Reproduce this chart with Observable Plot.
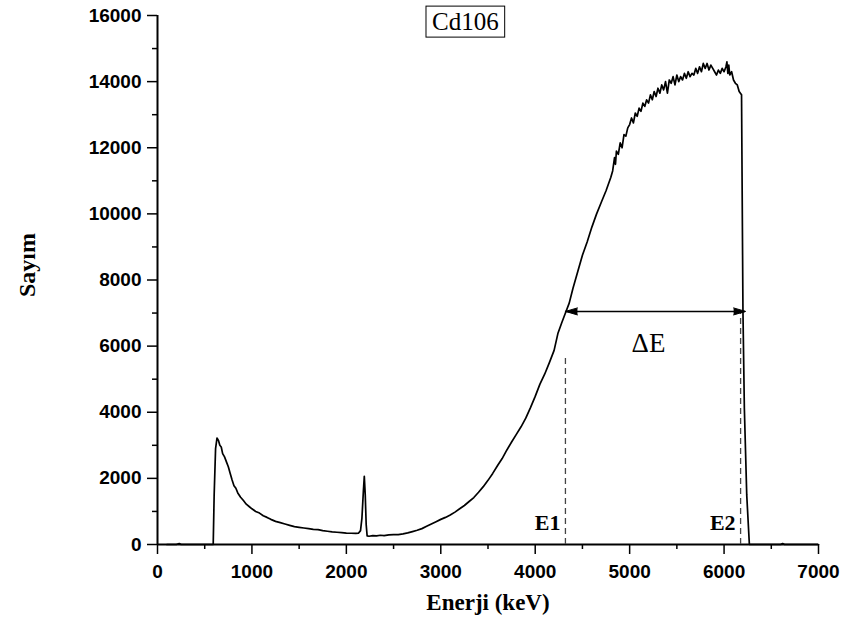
<!DOCTYPE html>
<html>
<head>
<meta charset="utf-8">
<script src="https://cdn.jsdelivr.net/npm/d3@7"></script>
<script src="https://cdn.jsdelivr.net/npm/@observablehq/plot@0.6"></script>
<style>
  html, body { margin: 0; padding: 0; background: #fff; }
  #chart { width: 845px; height: 631px; }
</style>
</head>
<body>
<div id="chart"></div>
<script>
// ---- Data ----
const title = "Cd106";
const xLabel = "Enerji (keV)";
const yLabel = "Sayım";

const energy = [
  100, 200, 230, 250, 400, 560, 590,
  600, 615, 630, 645, 660, 675, 690, 710, 730, 750, 770, 790, 810, 830, 850, 880, 910, 940, 970, 1000,
  1040, 1080, 1120, 1160, 1200, 1250, 1300, 1350, 1400, 1450, 1500, 1550, 1600, 1650, 1700, 1750, 1800,
  1850, 1900, 1950, 2000, 2050, 2100, 2130, 2150, 2165, 2180, 2190, 2200, 2210, 2220, 2240, 2280, 2320,
  2360, 2400, 2450, 2500, 2550, 2600, 2650, 2700, 2750, 2800, 2850, 2900, 2950, 3000, 3050, 3100, 3150,
  3200, 3250, 3300, 3350, 3400, 3450, 3500, 3550, 3600, 3650, 3700, 3750, 3800, 3850, 3900, 3950, 4000,
  4050, 4100, 4150, 4200, 4240, 4280, 4320, 4360, 4400, 4450, 4500, 4550, 4600, 4650, 4700, 4750,
  4800, 4820, 4840, 4850, 4860, 4880, 4900, 4920, 4940, 4960, 4980, 5000, 5020, 5040, 5060, 5080, 5100,
  5120, 5140, 5160, 5180, 5200, 5220, 5240, 5260, 5280, 5300, 5320, 5340, 5360, 5380, 5400, 5420, 5440,
  5460, 5480, 5500, 5520, 5540, 5560, 5580, 5600, 5620, 5640, 5660, 5680, 5700, 5720, 5740, 5760, 5780,
  5800, 5820, 5840, 5860, 5880, 5900, 5920, 5940, 5960, 5980, 6000, 6020, 6030, 6040, 6050, 6060, 6080,
  6100, 6120, 6140, 6160, 6175, 6185, 6200, 6215, 6240, 6268, 6400, 6600, 6620, 6640, 7000
];
const counts = [
  0, 0, 30, 0, 0, 0, 0,
  1500, 2900, 3220, 3150, 3000, 2950, 2750, 2650, 2500, 2350, 2150, 1950, 1780, 1700, 1560, 1430, 1330, 1220, 1150, 1080,
  1000, 950, 870, 820, 760, 700, 660, 620, 580, 540, 520, 500, 480, 460, 450, 420, 400,
  380, 370, 360, 345, 340, 335, 345, 420, 800, 1600, 2060, 1500, 600, 260, 250, 270, 260,
  280, 270, 290, 300, 300, 320, 350, 390, 430, 480, 550, 620, 690, 760, 820, 890, 980,
  1080, 1180, 1300, 1420, 1580, 1750, 1940, 2150, 2380, 2600, 2860, 3100, 3330, 3560, 3820, 4140, 4480,
  4850, 5150, 5500, 5870, 6380, 6700, 7000, 7300, 7750, 8250, 8750, 9150, 9600, 10000, 10350, 10700,
  11100, 11300, 11700, 11500, 11900, 11800, 12150, 12000, 12400, 12350, 12600, 12700, 12900, 12750, 13050, 12950, 13200,
  13100, 13350, 13250, 13450, 13350, 13600, 13450, 13700, 13550, 13800, 13650, 13900, 13750, 14000, 13650, 14050, 13950,
  14150, 13900, 14200, 14000, 14150, 14050, 14250, 14100, 14300, 14150, 14250, 14200, 14400, 14250, 14450, 14300, 14550,
  14400, 14550, 14350, 14500, 14400, 14300, 14200, 14350, 14250, 14400, 14300, 14450, 14600, 14250, 14500, 14200, 14300,
  14050, 13950, 13900, 13700, 13640, 13600, 7050, 4100, 1500, 0, 0, 0, 30, 0, 0
];

const xMajorTicks = [0, 1000, 2000, 3000, 4000, 5000, 6000, 7000];
const xMinorTicks = [500, 1500, 2500, 3500, 4500, 5500, 6500];
const yMajorTicks = [0, 2000, 4000, 6000, 8000, 10000, 12000, 14000, 16000];
const yMinorTicks = [1000, 3000, 5000, 7000, 9000, 11000, 13000, 15000];

// annotation values
const E1 = 4320, E2 = 6175;
const arrowY = 7050, arrowX1 = 4320, arrowX2 = 6228;
const e1LineTop = 5650;
const eLabelY = 650;
const deltaLabel = {text: "ΔE", x: 5200, y: 6080};
const titlePos = {x: 3260, y: 15800};

const spectrum = energy.map((e, i) => ({e, c: counts[i]}));
const SERIF = "'Liberation Serif', 'Times New Roman', serif";
const SANS = "'Liberation Sans', Arial, sans-serif";

const chart = Plot.plot({
  width: 845,
  height: 631,
  marginLeft: 157,
  marginRight: 27,
  marginTop: 15,
  marginBottom: 87,
  x: {domain: [0, 7000], axis: null},
  y: {domain: [0, 16000], axis: null},
  style: {background: "white", color: "black"},
  marks: [
    // minor ticks
    Plot.axisX({ticks: xMinorTicks, tickSize: 5, tickFormat: () => "", label: null, strokeWidth: 1.5}),
    Plot.axisY({ticks: yMinorTicks, tickSize: 5, tickFormat: () => "", label: null, strokeWidth: 1.5}),
    // major ticks with labels
    Plot.axisX({ticks: xMajorTicks, tickSize: 10, tickPadding: 10, tickFormat: d => String(d), label: null,
      strokeWidth: 1.5, fontSize: 19, fontWeight: "bold", fontFamily: SANS}),
    Plot.axisY({ticks: yMajorTicks, tickSize: 10, tickPadding: 6, tickFormat: d => String(d), label: null,
      strokeWidth: 1.5, fontSize: 19, fontWeight: "bold", fontFamily: SANS}),
    // axis lines
    Plot.ruleY([0], {x1: 0, x2: 7000, stroke: "black", strokeWidth: 2}),
    Plot.ruleX([0], {y1: 0, y2: 16000, stroke: "black", strokeWidth: 2}),
    // dashed E1 / E2 lines
    Plot.ruleX([E1], {y1: 0, y2: e1LineTop, stroke: "#444", strokeWidth: 1.3, strokeDasharray: "6,4"}),
    Plot.ruleX([E2], {y1: 0, y2: arrowY, stroke: "#444", strokeWidth: 1.3, strokeDasharray: "6,4"}),
    // spectrum
    Plot.line(spectrum, {x: "e", y: "c", stroke: "black", strokeWidth: 1.7, strokeLinejoin: "round"}),
    // ΔE arrow
    Plot.ruleY([arrowY], {x1: arrowX1, x2: arrowX2, stroke: "black", strokeWidth: 1.5}),
    Plot.vector([{x: arrowX1, r: -90}, {x: arrowX2, r: 90}], {
      x: "x", y: () => arrowY, rotate: "r", length: 12, r: 3.5, shape: "spike", anchor: "end",
      fill: "black", stroke: "black", strokeWidth: 1
    }),
    // labels
    Plot.text([deltaLabel], {x: "x", y: "y", text: "text", fontSize: 27, fontFamily: SERIF, fill: "black"}),
    Plot.text([{t: "E1", x: E1}, {t: "E2", x: E2}], {
      x: "x", y: () => eLabelY, text: "t", textAnchor: "end", dx: -5,
      fontSize: 22, fontWeight: "bold", fontFamily: SERIF, fill: "black"
    }),
    Plot.text([title], {x: () => titlePos.x, y: () => titlePos.y, text: d => d, fontSize: 25,
      fontFamily: SERIF, fill: "black", className: "title-text"}),
    Plot.text([yLabel], {frameAnchor: "left", text: d => d, dx: -130, dy: 17, rotate: -90,
      fontSize: 24, fontWeight: "bold", fontFamily: SERIF, fill: "black"}),
    Plot.text([xLabel], {frameAnchor: "bottom", text: d => d, dy: 65,
      fontSize: 23, fontWeight: "bold", fontFamily: SERIF, fill: "black"})
  ]
});

document.getElementById("chart").appendChild(chart);

// box around the title text
const tnode = chart.querySelector(".title-text text");
if (tnode) {
  const bb = tnode.getBBox();
  const padX = 6, padY = 2;
  const rect = document.createElementNS("http://www.w3.org/2000/svg", "rect");
  rect.setAttribute("x", bb.x - padX);
  rect.setAttribute("y", bb.y - padY);
  rect.setAttribute("width", bb.width + 2 * padX);
  rect.setAttribute("height", bb.height + 2 * padY);
  if (tnode.getAttribute("transform")) rect.setAttribute("transform", tnode.getAttribute("transform"));
  rect.setAttribute("fill", "white");
  rect.setAttribute("stroke", "black");
  rect.setAttribute("stroke-width", 1);
  tnode.parentNode.insertBefore(rect, tnode);
}
</script>
</body>
</html>
